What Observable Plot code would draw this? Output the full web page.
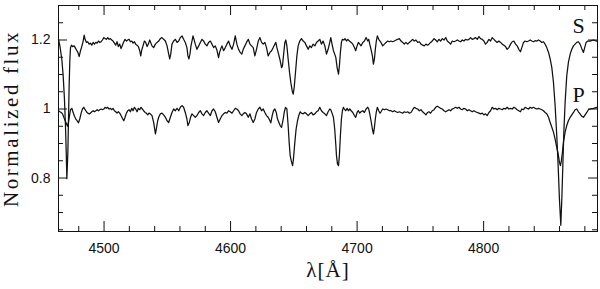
<!DOCTYPE html>
<html><head><meta charset="utf-8">
<script src="https://cdn.jsdelivr.net/npm/d3@7"></script>
<script src="https://cdn.jsdelivr.net/npm/@observablehq/plot@0.6"></script>
<style>body{margin:0;background:#fff} svg{display:block}</style>
</head><body><div id="chart"></div>
<script>
// Secondary (S) spectrum, shifted by +0.2
const sWave = [4464.0,4465.1,4466.6,4467.7,4468.7,4469.5,4470.1,4470.6,4471.4,4471.9,4472.4,4473.0,4473.5,4474.3,4475.1,4476.4,4477.2,4478.2,4479.3,4480.3,4481.4,4482.4,4483.5,4484.3,4485.0,4486.1,4487.1,4488.2,4489.3,4490.3,4491.4,4492.4,4493.5,4494.5,4495.6,4496.6,4497.7,4498.7,4499.8,4500.8,4501.9,4502.9,4504.0,4505.0,4506.1,4507.1,4508.2,4509.2,4510.3,4511.3,4512.4,4513.4,4514.5,4515.6,4516.6,4517.7,4518.7,4519.8,4520.8,4521.9,4522.9,4524.0,4525.0,4526.1,4527.1,4528.2,4529.0,4529.8,4530.8,4531.9,4532.9,4534.0,4535.0,4536.1,4537.9,4539.2,4540.6,4541.9,4543.2,4544.5,4545.8,4547.1,4548.5,4549.8,4551.1,4551.9,4552.7,4553.7,4555.0,4556.3,4557.7,4559.0,4560.3,4561.6,4562.9,4564.2,4565.5,4566.3,4567.1,4567.9,4568.7,4569.5,4570.3,4571.1,4572.1,4573.4,4574.8,4576.1,4577.4,4578.7,4580.0,4581.3,4582.6,4584.0,4585.3,4586.6,4587.9,4589.2,4590.5,4591.3,4592.1,4593.2,4594.5,4595.8,4597.1,4598.4,4599.7,4601.1,4602.4,4603.7,4605.0,4606.3,4607.6,4608.9,4610.0,4611.3,4612.6,4614.0,4615.3,4616.6,4617.9,4619.2,4620.5,4621.9,4623.2,4624.5,4625.8,4627.1,4628.4,4629.7,4631.1,4632.4,4633.7,4635.0,4635.8,4636.6,4637.6,4638.9,4640.3,4641.0,4641.8,4642.9,4643.7,4644.5,4645.5,4646.6,4647.6,4648.7,4649.5,4650.3,4651.3,4652.4,4653.4,4654.7,4656.0,4657.4,4658.7,4660.0,4661.3,4662.6,4663.9,4665.2,4666.6,4667.9,4669.2,4670.5,4671.8,4673.1,4674.5,4675.8,4677.1,4678.4,4679.2,4680.2,4681.3,4682.3,4683.2,4684.2,4685.3,4686.0,4686.8,4687.6,4688.4,4689.5,4690.5,4691.6,4692.6,4693.9,4695.3,4696.6,4697.9,4698.9,4700.0,4701.0,4702.1,4703.1,4704.5,4705.8,4707.1,4708.4,4709.2,4710.0,4711.0,4712.1,4712.9,4713.7,4714.4,4715.2,4716.0,4717.1,4718.1,4718.9,4720.2,4721.6,4722.9,4724.2,4725.5,4726.8,4728.1,4729.4,4730.8,4732.1,4733.4,4734.7,4736.0,4737.3,4738.6,4740.0,4741.3,4742.6,4743.9,4745.2,4746.5,4747.9,4749.2,4750.5,4751.8,4753.1,4754.4,4755.7,4756.8,4758.1,4759.4,4760.8,4762.1,4763.4,4764.7,4766.0,4767.3,4768.7,4770.0,4771.3,4772.6,4773.9,4775.2,4776.5,4777.9,4779.2,4780.5,4781.8,4783.1,4784.4,4785.7,4787.1,4788.4,4789.7,4791.0,4792.3,4793.6,4795.0,4796.3,4797.6,4798.9,4800.2,4801.5,4802.8,4804.2,4805.5,4806.8,4808.1,4809.4,4810.7,4812.0,4813.4,4814.7,4816.0,4817.3,4818.6,4819.9,4821.3,4822.6,4823.9,4825.2,4826.5,4827.8,4829.1,4830.2,4831.5,4832.8,4834.2,4835.5,4836.8,4838.1,4839.4,4840.7,4842.1,4843.4,4844.7,4846.0,4847.3,4848.6,4849.9,4851.3,4852.6,4853.9,4855.2,4856.5,4857.8,4858.9,4859.9,4861.0,4861.8,4862.6,4863.4,4864.4,4865.7,4867.0,4868.4,4869.7,4871.0,4872.3,4873.6,4874.9,4876.2,4877.6,4878.9,4879.9,4881.0,4882.3,4884.1,4886.8,4889.4];
const sFlux = [1.202,1.183,1.145,1.096,1.029,0.952,0.875,0.798,0.875,0.971,1.067,1.145,1.178,1.185,1.181,1.183,1.178,1.171,1.164,1.152,1.169,1.181,1.197,1.214,1.202,1.193,1.195,1.188,1.191,1.185,1.193,1.188,1.193,1.191,1.197,1.193,1.195,1.200,1.207,1.204,1.202,1.207,1.202,1.204,1.200,1.197,1.191,1.185,1.195,1.181,1.188,1.175,1.185,1.195,1.202,1.197,1.200,1.202,1.195,1.197,1.191,1.195,1.188,1.185,1.181,1.169,1.154,1.171,1.183,1.197,1.193,1.181,1.188,1.200,1.183,1.178,1.188,1.193,1.197,1.204,1.207,1.202,1.197,1.183,1.159,1.145,1.159,1.188,1.197,1.202,1.193,1.197,1.207,1.212,1.202,1.193,1.178,1.154,1.145,1.159,1.183,1.197,1.212,1.202,1.188,1.173,1.183,1.193,1.202,1.197,1.188,1.183,1.193,1.197,1.188,1.178,1.183,1.171,1.149,1.164,1.173,1.183,1.169,1.178,1.188,1.197,1.183,1.173,1.188,1.212,1.188,1.173,1.164,1.159,1.173,1.183,1.193,1.202,1.188,1.183,1.178,1.154,1.173,1.197,1.207,1.193,1.188,1.193,1.178,1.154,1.164,1.169,1.178,1.188,1.193,1.178,1.164,1.145,1.120,1.125,1.154,1.193,1.200,1.183,1.145,1.106,1.077,1.053,1.043,1.063,1.106,1.154,1.183,1.197,1.204,1.197,1.193,1.183,1.173,1.183,1.178,1.188,1.183,1.193,1.197,1.202,1.188,1.197,1.183,1.159,1.173,1.193,1.207,1.188,1.169,1.159,1.149,1.120,1.101,1.125,1.164,1.193,1.202,1.200,1.204,1.197,1.202,1.197,1.193,1.188,1.178,1.169,1.183,1.193,1.188,1.183,1.193,1.197,1.207,1.197,1.202,1.188,1.173,1.154,1.130,1.145,1.173,1.197,1.212,1.202,1.197,1.193,1.183,1.188,1.193,1.197,1.195,1.197,1.195,1.197,1.200,1.202,1.204,1.197,1.193,1.188,1.193,1.188,1.193,1.197,1.202,1.197,1.200,1.193,1.195,1.188,1.185,1.183,1.188,1.185,1.188,1.193,1.197,1.204,1.200,1.195,1.202,1.197,1.204,1.200,1.207,1.197,1.193,1.188,1.197,1.195,1.197,1.200,1.197,1.195,1.200,1.197,1.202,1.200,1.202,1.207,1.202,1.204,1.207,1.202,1.210,1.204,1.202,1.197,1.188,1.193,1.202,1.197,1.207,1.202,1.197,1.193,1.197,1.193,1.188,1.185,1.181,1.173,1.178,1.188,1.195,1.197,1.188,1.183,1.173,1.166,1.178,1.193,1.197,1.195,1.197,1.200,1.197,1.195,1.198,1.197,1.200,1.197,1.193,1.195,1.188,1.178,1.164,1.145,1.120,1.077,1.010,0.923,0.836,0.740,0.663,0.740,0.836,0.933,1.019,1.096,1.135,1.159,1.173,1.183,1.188,1.193,1.195,1.188,1.175,1.164,1.178,1.193,1.197,1.197,1.200,1.197];
// Primary (P) spectrum
const pWave = [4464.0,4465.1,4466.1,4467.2,4468.2,4469.3,4470.3,4471.1,4471.9,4472.7,4473.5,4474.5,4475.6,4476.6,4477.7,4478.7,4479.8,4480.8,4481.9,4482.9,4484.0,4485.0,4486.1,4487.1,4488.2,4489.3,4490.3,4491.4,4492.4,4493.5,4494.5,4495.6,4496.6,4497.7,4498.7,4499.8,4500.8,4501.9,4502.9,4504.0,4505.0,4506.1,4507.1,4508.2,4509.2,4510.3,4511.3,4512.4,4513.4,4514.5,4515.6,4516.6,4517.7,4518.7,4519.8,4520.8,4521.9,4522.9,4524.0,4525.0,4526.1,4527.1,4528.2,4529.2,4530.3,4531.3,4532.4,4533.4,4534.5,4535.5,4536.6,4537.9,4539.2,4540.0,4540.6,4541.3,4542.4,4543.2,4544.5,4545.8,4547.1,4548.5,4549.8,4551.1,4552.4,4553.7,4555.0,4556.3,4557.7,4559.0,4560.3,4561.6,4562.9,4564.2,4565.5,4566.3,4567.4,4568.4,4569.5,4570.8,4572.1,4573.4,4574.8,4576.1,4577.4,4578.7,4580.0,4581.3,4582.6,4584.0,4585.3,4586.6,4587.9,4589.2,4590.5,4591.8,4593.2,4594.5,4595.8,4597.1,4598.4,4599.7,4601.1,4602.4,4603.7,4605.0,4606.3,4607.6,4608.9,4610.0,4611.3,4612.6,4614.0,4615.3,4616.6,4617.9,4619.2,4620.5,4621.9,4623.2,4624.5,4625.8,4627.1,4628.4,4629.7,4631.1,4631.8,4632.9,4633.9,4635.0,4636.1,4637.1,4638.2,4639.2,4640.3,4641.6,4642.4,4643.4,4644.5,4645.5,4646.3,4647.1,4648.2,4649.0,4649.7,4650.8,4651.8,4652.9,4653.9,4655.0,4656.0,4657.4,4658.7,4660.0,4661.3,4662.6,4663.9,4665.2,4666.6,4667.9,4669.2,4670.5,4671.8,4673.1,4674.5,4675.8,4677.1,4678.4,4679.2,4680.2,4681.3,4682.3,4683.2,4683.7,4684.5,4685.3,4686.0,4686.8,4687.6,4688.4,4689.2,4690.0,4691.0,4692.1,4693.1,4694.2,4695.3,4696.6,4697.9,4698.9,4700.0,4701.0,4702.1,4703.1,4704.5,4705.8,4707.1,4708.4,4709.2,4710.0,4711.0,4712.1,4712.9,4713.7,4714.4,4715.2,4716.0,4717.1,4718.1,4718.9,4720.2,4721.6,4722.9,4724.2,4725.5,4726.8,4728.1,4729.4,4730.8,4732.1,4733.4,4734.7,4736.0,4737.3,4738.6,4740.0,4741.3,4742.6,4743.9,4745.2,4746.5,4747.9,4749.2,4750.5,4751.8,4753.1,4754.4,4755.7,4756.8,4758.1,4759.4,4760.8,4762.1,4763.4,4764.7,4766.0,4767.3,4768.7,4770.0,4771.3,4772.6,4773.9,4775.2,4776.5,4777.9,4779.2,4780.5,4781.8,4783.1,4784.4,4785.7,4787.1,4788.4,4789.7,4791.0,4792.3,4793.6,4795.0,4796.3,4797.6,4798.9,4800.2,4801.5,4802.8,4804.2,4805.5,4806.8,4808.1,4809.4,4810.7,4812.0,4813.4,4814.7,4816.0,4817.3,4818.6,4819.9,4821.3,4822.6,4823.9,4825.2,4826.5,4827.8,4829.1,4830.2,4831.5,4832.8,4834.2,4835.5,4836.8,4838.1,4839.4,4840.7,4842.1,4843.4,4844.7,4846.0,4847.3,4848.6,4849.9,4851.3,4852.6,4853.9,4855.2,4856.5,4857.8,4858.9,4859.9,4860.7,4861.5,4862.3,4863.1,4864.4,4865.7,4867.0,4868.4,4869.7,4871.0,4872.3,4873.6,4874.9,4876.2,4877.6,4878.9,4880.2,4881.5,4882.8,4884.1,4886.8,4889.4];
const pFlux = [0.995,0.992,0.990,0.986,0.976,0.966,0.957,0.950,0.961,0.981,0.998,1.002,0.990,0.979,0.971,0.966,0.960,0.971,0.988,1.000,1.005,0.998,0.992,0.988,0.986,0.988,0.992,0.995,0.992,0.995,0.998,0.995,0.998,1.000,0.998,1.000,1.005,1.002,1.005,1.000,1.002,0.998,1.002,0.995,0.992,0.988,0.992,0.988,0.981,0.973,0.966,0.976,0.988,0.995,0.998,0.992,1.002,0.995,1.005,1.000,0.992,1.002,0.998,1.005,1.000,0.995,0.990,0.988,0.983,0.988,0.986,0.981,0.961,0.942,0.928,0.942,0.966,0.976,0.986,0.988,0.983,0.976,0.966,0.961,0.976,0.990,1.000,0.995,1.002,0.995,1.005,1.010,1.005,0.990,0.971,0.952,0.961,0.976,0.986,0.981,0.976,0.981,0.990,0.995,0.986,0.981,0.990,0.995,0.988,0.981,0.995,1.000,0.992,0.976,0.961,0.971,0.981,0.986,0.990,0.988,0.995,0.992,0.988,0.995,1.002,1.000,0.995,0.986,0.981,0.986,0.990,0.986,0.976,0.986,0.971,0.961,0.971,0.990,1.000,1.005,0.995,1.000,0.990,0.981,0.976,0.966,0.960,0.981,0.995,1.000,0.990,0.971,0.961,0.952,0.947,0.971,0.990,1.005,1.000,0.952,0.904,0.865,0.846,0.836,0.855,0.904,0.942,0.966,0.981,0.992,0.988,0.986,0.990,0.986,0.981,0.986,0.990,0.983,0.986,0.992,0.995,1.005,0.995,0.990,0.986,0.981,0.992,1.000,0.998,0.988,0.976,0.942,0.895,0.865,0.841,0.836,0.865,0.923,0.971,0.995,1.005,1.000,0.995,1.002,0.995,1.000,0.995,0.990,0.981,0.976,0.990,0.995,0.988,0.992,0.995,0.990,1.000,1.005,1.000,0.986,0.966,0.942,0.928,0.947,0.971,0.992,1.005,0.995,0.988,0.992,1.000,0.998,1.000,0.998,0.995,0.995,0.992,0.995,0.992,0.990,0.992,0.990,0.988,0.992,0.990,0.992,0.988,0.990,0.998,1.005,1.002,1.000,0.995,0.998,0.992,0.988,0.983,0.990,0.992,0.988,0.995,0.998,1.005,1.008,1.005,1.002,1.000,0.995,0.992,0.995,0.998,0.995,1.000,1.002,1.005,1.002,1.005,1.000,0.998,1.002,1.000,0.995,0.998,0.995,0.992,0.995,0.992,0.990,0.988,0.986,0.988,0.983,0.986,0.981,0.990,0.995,1.005,1.000,1.002,0.998,1.002,1.000,0.998,1.002,1.000,1.005,1.000,1.002,1.000,1.005,1.002,0.998,0.995,0.992,1.000,0.998,1.005,1.002,1.000,1.005,1.002,1.005,1.002,1.000,1.002,1.000,0.998,0.995,0.990,0.986,0.976,0.961,0.947,0.933,0.913,0.889,0.870,0.846,0.836,0.851,0.875,0.904,0.933,0.952,0.966,0.976,0.983,0.990,0.998,1.000,0.992,0.986,0.979,0.976,0.983,0.990,0.998,1.000,1.002,1.005];
const seriesLabels = ["S", "P"];
const xMajor = [4500, 4600, 4700, 4800];
const xMinor = [4480, 4520, 4540, 4560, 4580, 4620, 4640, 4660, 4680, 4720, 4740, 4760, 4780, 4820, 4840, 4860, 4880];
const yMajor = [0.8, 1, 1.2];
const yMinor = [0.65, 0.7, 0.75, 0.85, 0.9, 0.95, 1.05, 1.1, 1.15, 1.25];
const xTitle = "λ[Å]";
const yTitle = "Normalized flux";

const sData = sWave.map((w, i) => ({w, f: sFlux[i]}));
const pData = pWave.map((w, i) => ({w, f: pFlux[i]}));

const W = 600, H = 289, mL = 58, mR = 3, mT = 5, mB = 58;
const iw = W - mL - mR, ih = H - mT - mB;
const serif = "'Liberation Serif','Times New Roman',serif";
const ink = "#111";

const chart = Plot.plot({
  width: W, height: H,
  marginLeft: mL, marginRight: mR, marginTop: mT, marginBottom: mB,
  x: {domain: [4464, 4890]},
  y: {domain: [0.645, 1.3]},
  style: {fontFamily: "'Liberation Sans',Arial,sans-serif", fontSize: "14px", color: ink, background: "#fff"},
  marks: [
    Plot.tickX(xMajor, {x: d => d, insetTop: ih - 10, stroke: ink}),
    Plot.tickX(xMajor, {x: d => d, insetBottom: ih - 10, stroke: ink}),
    Plot.tickX(xMinor, {x: d => d, insetTop: ih - 5, stroke: ink}),
    Plot.tickX(xMinor, {x: d => d, insetBottom: ih - 5, stroke: ink}),
    Plot.tickY(yMajor, {y: d => d, insetRight: iw - 9, stroke: ink}),
    Plot.tickY(yMajor, {y: d => d, insetLeft: iw - 9, stroke: ink}),
    Plot.tickY(yMinor, {y: d => d, insetRight: iw - 5, stroke: ink}),
    Plot.tickY(yMinor, {y: d => d, insetLeft: iw - 5, stroke: ink}),
    Plot.axisX(xMajor, {tickSize: 0, tickPadding: 12, label: null, fontSize: 14, tickFormat: d => String(d)}),
    Plot.axisY(yMajor, {tickSize: 0, tickPadding: 8, label: null, fontSize: 14, tickFormat: d => String(d)}),
    Plot.line(sData, {x: "w", y: "f", stroke: ink, strokeWidth: 1.25}),
    Plot.line(pData, {x: "w", y: "f", stroke: ink, strokeWidth: 1.25}),
    Plot.frame({stroke: ink, strokeWidth: 1}),
    Plot.text(seriesLabels, {text: d => d, lineAnchor: "bottom", fontFamily: serif, fontSize: 22, fill: ink,
      y: (d, i) => [1.219, 1.021][i], x: () => 4875, textAnchor: "middle"}),
    Plot.text([yTitle], {frameAnchor: "left", textAnchor: "middle", rotate: -90, dx: -47, fontFamily: serif, fontSize: 21, fill: ink}),
    Plot.text([xTitle], {frameAnchor: "bottom", textAnchor: "middle", dy: 45, fontFamily: serif, fontSize: 21, fill: ink})
  ]
});
chart.querySelectorAll("text").forEach(t => {
  if (t.textContent === yTitle) t.setAttribute("letter-spacing", "2.6px");
  if (t.textContent === xTitle) t.setAttribute("letter-spacing", "1px");
});
document.getElementById("chart").appendChild(chart);
</script>
</body></html>
